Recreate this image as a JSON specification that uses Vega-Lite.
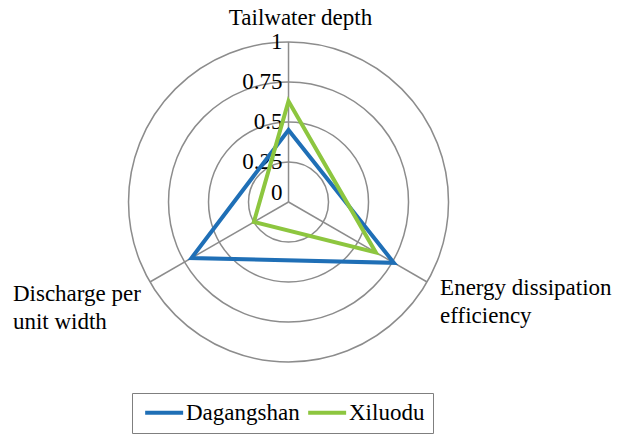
{
  "$schema": "https://vega.github.io/schema/vega-lite/v6.json",
  "width": 618,
  "height": 434,
  "autosize": {"type": "none"},
  "padding": 0,
  "background": "white",
  "config": {
    "view": {"stroke": null}
  },
  "datasets": {
    "rings": [{"ring": 0}, {"ring": 0.25}, {"ring": 0.5}, {"ring": 0.75}, {"ring": 1}],
    "axes": [
      {"axis": "Tailwater depth", "lines": ["Tailwater depth"]},
      {"axis": "Energy dissipation efficiency", "lines": ["Energy dissipation", "\u00a0efficiency"]},
      {"axis": "Discharge per unit width", "lines": ["Discharge per", "unit width"]}
    ],
    "scores": [
      {"series": "Dagangshan", "axis": "Tailwater depth", "value": 0.45},
      {"series": "Dagangshan", "axis": "Energy dissipation efficiency", "value": 0.76},
      {"series": "Dagangshan", "axis": "Discharge per unit width", "value": 0.70},
      {"series": "Xiluodu", "axis": "Tailwater depth", "value": 0.63},
      {"series": "Xiluodu", "axis": "Energy dissipation efficiency", "value": 0.63},
      {"series": "Xiluodu", "axis": "Discharge per unit width", "value": 0.25}
    ]
  },
  "layer": [
    {
      "data": {"name": "rings"},
      "transform": [{"filter": "datum.ring > 0"}],
      "mark": {"type": "arc", "theta": 0, "theta2": 6.2832, "fill": "white", "fillOpacity": 0,
               "stroke": "#8c8c8c", "strokeWidth": 1.5},
      "encoding": {
        "x": {"datum": 0, "type": "quantitative", "axis": null,
              "scale": {"domain": [-1.803, 2.059], "nice": false, "zero": false}},
        "y": {"datum": 0, "type": "quantitative", "axis": null,
              "scale": {"domain": [-1.45, 1.2625], "nice": false, "zero": false}},
        "radius": {"field": "ring", "type": "quantitative", "stack": null,
                   "scale": {"type": "linear", "domain": [0, 1], "range": [0, 160], "zero": true}}
      }
    },
    {
      "data": {"name": "axes"},
      "transform": [
        {"calculate": "indexof(['Tailwater depth','Energy dissipation efficiency','Discharge per unit width'], datum.axis)", "as": "k"},
        {"calculate": "sin(2 * PI * datum.k / 3)", "as": "ex"},
        {"calculate": "cos(2 * PI * datum.k / 3)", "as": "ey"}
      ],
      "mark": {"type": "rule", "stroke": "#8c8c8c", "strokeWidth": 1.5},
      "encoding": {
        "x": {"field": "ex", "type": "quantitative", "axis": null,
              "scale": {"domain": [-1.803, 2.059], "nice": false, "zero": false}},
        "y": {"field": "ey", "type": "quantitative", "axis": null,
              "scale": {"domain": [-1.45, 1.2625], "nice": false, "zero": false}},
        "x2": {"datum": 0},
        "y2": {"datum": 0}
      }
    },
    {
      "data": {"name": "rings"},
      "transform": [{"filter": "datum.ring > 0"}],
      "mark": {"type": "text", "font": "Liberation Serif", "color": "black", "align": "right", "baseline": "alphabetic", "dx": -6, "dy": 7, "fontSize": 23},
      "encoding": {
        "x": {"datum": 0, "type": "quantitative", "axis": null,
              "scale": {"domain": [-1.803, 2.059], "nice": false, "zero": false}},
        "y": {"field": "ring", "type": "quantitative", "axis": null,
              "scale": {"domain": [-1.45, 1.2625], "nice": false, "zero": false}},
        "text": {"field": "ring", "type": "quantitative", "format": "~g"}
      }
    },
    {
      "data": {"name": "rings"},
      "transform": [{"filter": "datum.ring == 0"}],
      "mark": {"type": "text", "font": "Liberation Serif", "color": "black", "align": "right", "baseline": "alphabetic", "dx": -6, "dy": -2, "fontSize": 23},
      "encoding": {
        "x": {"datum": 0, "type": "quantitative", "axis": null,
              "scale": {"domain": [-1.803, 2.059], "nice": false, "zero": false}},
        "y": {"field": "ring", "type": "quantitative", "axis": null,
              "scale": {"domain": [-1.45, 1.2625], "nice": false, "zero": false}},
        "text": {"field": "ring", "type": "quantitative", "format": "~g"}
      }
    },
    {
      "data": {"name": "axes"},
      "transform": [
        {"filter": "datum.axis == 'Tailwater depth'"},
        {"calculate": "indexof(['Tailwater depth','Energy dissipation efficiency','Discharge per unit width'], datum.axis)", "as": "k"},
        {"calculate": "sin(2 * PI * datum.k / 3)", "as": "ex"},
        {"calculate": "cos(2 * PI * datum.k / 3)", "as": "ey"}
      ],
      "mark": {"type": "text", "font": "Liberation Serif", "color": "black", "align": "center", "baseline": "alphabetic", "dx": 12, "dy": -17, "fontSize": 23},
      "encoding": {
        "x": {"field": "ex", "type": "quantitative", "axis": null,
              "scale": {"domain": [-1.803, 2.059], "nice": false, "zero": false}},
        "y": {"field": "ey", "type": "quantitative", "axis": null,
              "scale": {"domain": [-1.45, 1.2625], "nice": false, "zero": false}},
        "text": {"field": "lines", "type": "nominal"}
      }
    },
    {
      "data": {"name": "axes"},
      "transform": [
        {"filter": "datum.axis == 'Energy dissipation efficiency'"},
        {"calculate": "indexof(['Tailwater depth','Energy dissipation efficiency','Discharge per unit width'], datum.axis)", "as": "k"},
        {"calculate": "sin(2 * PI * datum.k / 3)", "as": "ex"},
        {"calculate": "cos(2 * PI * datum.k / 3)", "as": "ey"}
      ],
      "mark": {"type": "text", "font": "Liberation Serif", "color": "black", "align": "left", "baseline": "alphabetic", "dx": 13, "dy": 13, "lineHeight": 28, "fontSize": 23},
      "encoding": {
        "x": {"field": "ex", "type": "quantitative", "axis": null,
              "scale": {"domain": [-1.803, 2.059], "nice": false, "zero": false}},
        "y": {"field": "ey", "type": "quantitative", "axis": null,
              "scale": {"domain": [-1.45, 1.2625], "nice": false, "zero": false}},
        "text": {"field": "lines", "type": "nominal"}
      }
    },
    {
      "data": {"name": "axes"},
      "transform": [
        {"filter": "datum.axis == 'Discharge per unit width'"},
        {"calculate": "indexof(['Tailwater depth','Energy dissipation efficiency','Discharge per unit width'], datum.axis)", "as": "k"},
        {"calculate": "sin(2 * PI * datum.k / 3)", "as": "ex"},
        {"calculate": "cos(2 * PI * datum.k / 3)", "as": "ey"}
      ],
      "mark": {"type": "text", "font": "Liberation Serif", "color": "black", "align": "left", "baseline": "alphabetic", "dx": -137, "dy": 19, "lineHeight": 28, "fontSize": 23},
      "encoding": {
        "x": {"field": "ex", "type": "quantitative", "axis": null,
              "scale": {"domain": [-1.803, 2.059], "nice": false, "zero": false}},
        "y": {"field": "ey", "type": "quantitative", "axis": null,
              "scale": {"domain": [-1.45, 1.2625], "nice": false, "zero": false}},
        "text": {"field": "lines", "type": "nominal"}
      }
    },
    {
      "data": {"name": "scores"},
      "transform": [
        {"calculate": "indexof(['Tailwater depth','Energy dissipation efficiency','Discharge per unit width'], datum.axis)", "as": "k"},
        {"calculate": "datum.value * sin(2 * PI * datum.k / 3)", "as": "px"},
        {"calculate": "datum.value * cos(2 * PI * datum.k / 3)", "as": "py"}
      ],
      "mark": {"type": "line", "interpolate": "linear-closed", "strokeWidth": 4, "strokeJoin": "miter"},
      "encoding": {
        "x": {"field": "px", "type": "quantitative", "axis": null,
              "scale": {"domain": [-1.803, 2.059], "nice": false, "zero": false}},
        "y": {"field": "py", "type": "quantitative", "axis": null,
              "scale": {"domain": [-1.45, 1.2625], "nice": false, "zero": false}},
        "order": {"field": "k", "type": "quantitative"},
        "color": {
          "field": "series", "type": "nominal",
          "scale": {"domain": ["Dagangshan", "Xiluodu"], "range": ["#1f6fb6", "#8dc63f"]},
          "legend": {
            "orient": "none", "legendX": 132, "legendY": 393,
            "direction": "horizontal", "title": null,
            "symbolType": "M-1,0H5", "symbolSize": 160, "symbolStrokeWidth": 4,
            "labelFont": "Liberation Serif",
            "labelFontSize": 23, "labelColor": "black",
            "labelOffset": 23, "columnPadding": 0, "padding": 8, "labelLimit": 300,
            "strokeColor": "#7f7f7f"
          }
        }
      }
    }
  ]
}
